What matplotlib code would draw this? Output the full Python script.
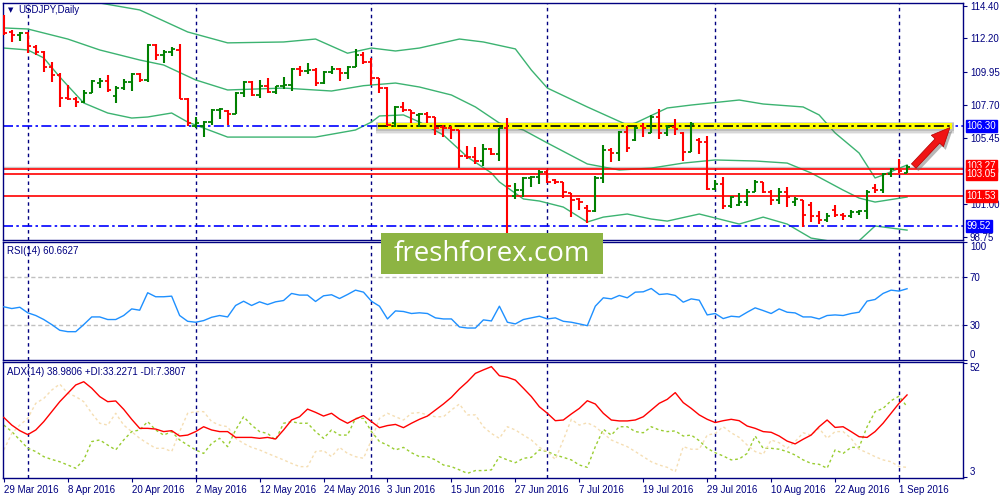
import matplotlib
matplotlib.use('Agg')
import matplotlib.pyplot as plt
import matplotlib.transforms as mtransforms
from matplotlib.patches import Rectangle
import numpy as np

plt.rcParams['font.family'] = ['Liberation Sans', 'DejaVu Sans']

# ---- data (USDJPY daily, 29 Mar 2016 .. 2 Sep 2016) ----
opens = [113.40, 112.62, 112.40, 112.57, 111.65, 111.30, 110.27, 109.75, 108.15, 108.10,
         107.90, 108.50, 109.20, 109.35, 108.30, 108.84, 109.25, 109.80, 109.40, 111.76,
         111.08, 111.28, 111.45, 108.12, 106.30, 106.30, 106.54, 107.35, 107.30, 107.08,
         108.50, 109.25, 108.35, 108.98, 108.57, 108.95, 109.05, 110.13, 110.00, 110.07,
         109.18, 109.95, 110.13, 109.86, 110.27, 111.08, 110.60, 109.52, 108.84, 106.50,
         107.56, 107.35, 107.00, 107.08, 106.88, 106.20, 106.13, 106.00, 104.24, 104.20,
         103.90, 104.71, 104.37, 106.13, 101.50, 101.93, 102.74, 102.81, 103.15, 102.60,
         102.48, 101.73, 101.30, 100.75, 100.51, 102.74, 104.64, 104.44, 105.86, 105.30,
         106.30, 105.80, 106.88, 105.80, 106.20, 105.80, 104.51, 105.30, 105.19, 102.00,
         102.34, 100.85, 100.95, 101.12, 101.80, 102.48, 101.80, 101.26, 101.80, 101.10,
         101.26, 100.90, 100.17, 99.90, 100.60, 100.24, 100.17, 100.44, 100.50, 102.10,
         101.93, 103.02, 103.36, 103.08]
highs = [113.79, 112.80, 112.64, 112.64, 111.75, 111.35, 110.60, 109.86, 109.05, 108.23,
         108.70, 109.39, 109.52, 109.73, 108.98, 109.45, 109.86, 109.86, 111.83, 111.83,
         111.42, 111.62, 111.83, 108.17, 106.88, 106.60, 107.42, 107.49, 107.35, 108.57,
         109.32, 109.32, 109.39, 109.52, 108.98, 109.59, 110.20, 110.34, 110.54, 110.20,
         110.00, 110.34, 110.20, 110.34, 111.49, 111.28, 110.88, 109.52, 108.91, 107.63,
         107.90, 107.35, 107.15, 107.22, 106.88, 106.34, 106.27, 106.00, 104.91, 104.84,
         105.05, 104.78, 106.13, 106.81, 102.41, 102.81, 102.88, 103.29, 103.29, 102.68,
         102.48, 101.73, 101.39, 100.90, 102.88, 104.98, 104.78, 105.93, 106.27, 106.20,
         106.47, 107.02, 107.42, 106.34, 106.74, 105.86, 106.54, 105.46, 105.59, 102.61,
         102.81, 101.53, 101.73, 102.00, 102.61, 102.48, 101.93, 102.07, 102.14, 101.46,
         101.26, 101.12, 100.51, 100.38, 100.92, 100.38, 100.58, 100.58, 101.93, 102.34,
         103.08, 103.43, 104.03, 103.63]
lows = [112.40, 111.95, 112.03, 111.20, 111.05, 109.93, 109.25, 107.56, 108.03, 107.56,
        107.80, 108.50, 108.84, 108.57, 107.83, 108.70, 108.64, 109.25, 109.25, 110.74,
        110.54, 111.00, 108.10, 106.27, 106.13, 105.50, 106.34, 106.74, 106.34, 107.08,
        108.23, 108.30, 108.17, 108.50, 108.44, 108.77, 108.64, 109.66, 109.79, 108.98,
        109.11, 109.79, 109.32, 109.45, 110.27, 110.47, 109.05, 108.50, 106.27, 106.20,
        107.22, 106.47, 106.20, 106.47, 105.66, 105.52, 105.39, 103.43, 104.03, 103.70,
        103.56, 104.31, 103.90, 99.00, 101.33, 101.46, 102.14, 102.34, 102.41, 102.34,
        101.39, 100.10, 100.58, 99.70, 100.44, 102.41, 103.83, 103.90, 104.51, 105.25,
        105.52, 105.80, 105.39, 105.59, 105.66, 103.90, 104.51, 104.37, 101.93, 101.93,
        100.65, 100.71, 100.85, 100.85, 101.80, 101.73, 100.92, 100.99, 100.78, 100.85,
        99.43, 99.77, 99.63, 99.77, 100.10, 99.90, 100.03, 100.24, 99.97, 101.73,
        101.73, 102.81, 103.08, 103.08]
closes = [112.60, 112.44, 112.57, 111.70, 111.30, 110.27, 109.70, 108.15, 108.10, 107.90,
          108.50, 109.30, 109.35, 108.70, 108.84, 109.25, 109.80, 109.40, 111.76, 111.08,
          111.28, 111.49, 108.12, 106.47, 106.45, 106.54, 107.35, 107.42, 107.08, 108.50,
          109.25, 108.35, 108.98, 108.57, 108.95, 109.05, 110.13, 110.00, 110.07, 109.18,
          109.95, 110.13, 109.86, 110.27, 111.08, 110.60, 109.52, 108.84, 106.35, 107.56,
          107.35, 107.15, 107.08, 106.88, 106.13, 106.13, 106.00, 104.24, 104.17, 103.90,
          104.71, 104.37, 106.13, 102.20, 101.93, 102.74, 102.81, 103.15, 102.48, 102.48,
          101.80, 101.26, 101.12, 100.51, 102.74, 104.64, 104.44, 105.86, 104.78, 106.13,
          106.13, 106.88, 105.80, 106.20, 106.06, 104.51, 106.40, 105.19, 102.00, 102.34,
          100.85, 101.46, 101.12, 101.80, 102.48, 101.80, 101.26, 101.80, 101.46, 101.33,
          100.24, 100.17, 99.90, 100.17, 100.24, 100.17, 100.44, 100.50, 101.80, 101.93,
          103.02, 103.36, 103.22, 103.52]

# Bollinger bands, read at sample bars
bb_up_idx = [0, 6, 12, 17, 23, 28, 35, 39, 43, 46, 49, 52, 57, 60, 64, 66, 68, 73, 78, 79,
             83, 86, 92, 95, 100, 102, 104, 107, 109, 110, 113]
bb_up = [116.0, 115.2, 114.6, 114.13, 112.64, 111.9, 111.96, 112.16, 111.2, 111.55, 111.35,
         111.55, 112.16, 111.96, 111.49, 110.06, 108.84, 107.56, 106.34, 106.47, 107.49,
         107.69, 108.03, 107.76, 107.56, 107.02, 105.8, 104.44, 102.75, 102.95, 103.63]
bb_mid_idx = [0, 3, 8, 12, 17, 20, 24, 28, 35, 41, 45, 49, 52, 56, 59, 62, 65, 68, 73, 77,
              81, 85, 89, 94, 98, 101, 105, 107, 109, 113]
bb_mid = [112.91, 112.84, 112.16, 111.42, 110.74, 110.40, 109.39, 108.71, 108.84, 108.64,
          109.0, 109.18, 108.91, 108.37, 107.56, 106.47, 106.0, 105.12, 103.70, 103.29,
          103.42, 103.76, 103.97, 103.90, 103.76, 103.09, 101.93, 101.39, 101.12, 101.46]
bb_low_idx = [0, 3, 5, 7, 10, 13, 16, 18, 21, 23, 28, 39, 44, 46, 47, 50, 52, 55, 58, 61,
              62, 65, 67, 70, 73, 75, 78, 81, 83, 87, 89, 92, 95, 98, 101, 104, 107, 109, 113]
bb_low = [111.55, 111.42, 110.88, 109.59, 107.83, 107.15, 106.81, 106.88, 107.15, 106.54,
          105.52, 105.52, 106.0, 106.54, 106.95, 107.02, 106.54, 105.66, 104.17, 103.09,
          102.48, 101.33, 101.19, 100.78, 99.77, 100.10, 100.31, 99.97, 99.83, 100.31,
          100.04, 99.63, 100.10, 99.63, 98.68, 98.42, 98.50, 99.50, 99.22]

rsi = [45.1, 43.6, 44.7, 40.0, 37.7, 34.3, 30.0, 25.2, 24.0, 24.0,
       30.0, 36.5, 36.5, 34.3, 34.3, 37.7, 43.3, 42.2, 57.0, 53.6,
       53.6, 54.1, 37.7, 32.8, 32.0, 33.4, 36.2, 37.7, 36.5, 46.2,
       49.8, 46.2, 49.3, 47.0, 49.3, 50.4, 56.4, 55.0, 55.0, 49.6,
       54.4, 55.3, 52.1, 55.5, 59.2, 57.5, 49.8, 45.6, 34.8, 41.6,
       41.1, 39.4, 40.0, 39.4, 35.7, 34.8, 34.8, 28.0, 27.1, 27.1,
       34.0, 33.1, 45.6, 32.0, 30.6, 34.3, 35.7, 37.1, 34.8, 35.7,
       32.8, 32.0, 30.6, 29.1, 45.6, 52.7, 51.8, 54.7, 52.7, 57.5,
       57.8, 60.6, 55.5, 56.1, 54.7, 49.0, 51.8, 50.7, 38.2, 39.4,
       35.1, 37.1, 36.5, 40.5, 44.2, 41.9, 39.4, 43.3, 40.5, 39.9,
       36.5, 36.5, 34.8, 37.7, 38.2, 37.7, 39.4, 40.5, 49.9, 51.3,
       56.4, 59.2, 58.4, 60.4]

adx = [28.6, 25.3, 22.9, 21.2, 23.2, 26.8, 31.1, 35.4, 39.0, 42.6,
       44.0, 41.2, 37.6, 35.4, 35.7, 32.1, 27.8, 23.9, 23.9, 23.6,
       22.5, 22.9, 20.6, 21.0, 22.5, 24.6, 23.2, 22.5, 22.5, 20.0,
       20.0, 20.0, 19.6, 20.0, 19.3, 23.2, 27.5, 28.9, 32.2, 30.8,
       29.2, 30.4, 27.9, 26.1, 27.9, 29.4, 26.8, 24.2, 25.1, 25.6,
       24.2, 26.1, 27.8, 29.2, 31.8, 34.4, 37.3, 40.9, 44.0, 47.6,
       49.1, 50.5, 46.6, 45.9, 44.7, 41.2, 37.6, 33.2, 30.4, 27.2,
       27.5, 30.1, 32.5, 35.8, 34.4, 30.4, 27.5, 27.1, 27.1, 27.5,
       28.9, 31.8, 34.7, 36.4, 39.3, 35.0, 32.5, 29.7, 27.8, 26.4,
       27.2, 27.8, 27.2, 24.9, 23.9, 22.5, 22.2, 20.6, 18.4, 17.2,
       19.2, 21.0, 24.6, 27.5, 24.3, 24.6, 22.5, 20.3, 20.0, 22.5,
       26.1, 30.4, 34.7, 38.3]
plus_di = [25.3, 22.5, 18.9, 15.3, 13.9, 11.7, 10.5, 9.5, 8.1, 6.7,
           10.3, 18.2, 18.9, 16.7, 14.6, 18.9, 22.5, 23.2, 26.8, 23.2,
           21.0, 22.5, 18.9, 16.7, 14.6, 13.1, 17.4, 19.6, 16.0, 23.2,
           28.9, 25.3, 22.5, 21.7, 18.9, 26.1, 26.8, 26.1, 26.1, 22.5,
           19.6, 23.2, 21.0, 21.0, 28.2, 28.2, 22.5, 18.2, 16.7, 14.6,
           15.7, 13.4, 11.7, 11.7, 10.3, 8.1, 7.4, 6.0, 4.5, 5.7,
           5.7, 6.0, 11.7, 10.3, 9.1, 11.0, 11.4, 14.6, 13.9, 12.4,
           11.4, 10.3, 8.1, 7.1, 16.0, 23.5, 21.0, 24.6, 24.6, 22.5,
           22.0, 24.6, 23.2, 22.5, 22.8, 20.6, 21.0, 18.6, 15.3, 13.4,
           12.0, 10.3, 10.7, 13.1, 20.6, 15.3, 15.3, 14.9, 13.9, 12.4,
           10.3, 8.8, 8.4, 6.7, 14.6, 13.1, 15.7, 15.7, 24.6, 31.1,
           32.5, 35.8, 37.8, 33.2]
minus_di = [14.6, 21.7, 25.3, 28.2, 34.7, 36.8, 40.4, 43.0, 39.0, 37.6,
            35.4, 30.4, 26.1, 25.3, 30.4, 25.3, 22.5, 19.6, 17.4, 15.3,
            15.3, 13.9, 22.5, 30.4, 31.1, 31.1, 26.8, 25.3, 24.6, 19.6,
            17.4, 15.7, 14.6, 13.1, 11.7, 10.3, 8.8, 7.4, 7.4, 13.9,
            14.3, 11.7, 15.7, 13.1, 11.7, 11.0, 18.9, 28.2, 30.4, 28.9,
            27.5, 30.4, 30.7, 29.7, 28.9, 28.9, 31.8, 34.4, 29.7, 29.7,
            24.6, 21.7, 19.6, 24.6, 23.2, 21.0, 18.9, 15.7, 13.9, 10.5,
            18.9, 27.8, 25.3, 26.3, 24.6, 21.7, 18.9, 17.4, 16.0, 13.9,
            11.7, 9.5, 8.1, 7.1, 5.2, 16.0, 14.9, 14.9, 21.0, 21.7,
            24.6, 22.0, 20.0, 16.7, 13.9, 12.7, 18.9, 17.7, 15.3, 18.2,
            22.0, 21.0, 23.9, 19.6, 22.5, 22.5, 19.6, 14.9, 13.4, 11.7,
            10.3, 9.5, 7.4, 7.1]

date_labels = ['29 Mar 2016', '8 Apr 2016', '20 Apr 2016', '2 May 2016', '12 May 2016',
               '24 May 2016', '3 Jun 2016', '15 Jun 2016', '27 Jun 2016', '7 Jul 2016',
               '19 Jul 2016', '29 Jul 2016', '10 Aug 2016', '22 Aug 2016', '1 Sep 2016']
month_starts = [3, 24, 46, 68, 89, 112]
price_ticks = [114.40, 112.20, 109.95, 107.70, 105.45, 101.00, 98.75]
red_levels = [103.33, 103.05, 101.53]
blue_levels = [106.30, 99.52]
target = 106.30

# ---- styling ----
W, H = 1000, 500
NAVY = '#000080'
UP, DOWN = '#008000', '#ff0000'
BB = '#3cb371'
DASHDOT = (0, (6, 2, 1.5, 2))
SEP = (0, (2.5, 2.5))

fig = plt.figure(figsize=(W / 100, H / 100), dpi=100)
fig.patch.set_facecolor('white')


def box(x0, y0, x1, y1):
    return [x0 / W, 1 - y1 / H, (x1 - x0) / W, (y1 - y0) / H]


ax = fig.add_axes(box(3, 3, 963, 240))
ax_rsi = fig.add_axes(box(3, 242, 963, 360), sharex=ax)
ax_adx = fig.add_axes(box(3, 362, 963, 478), sharex=ax)

n = len(closes)
x = np.arange(n)
o, h, l, c = map(np.array, (opens, highs, lows, closes))
cols = np.where(c >= o, UP, DOWN)

for a in (ax, ax_rsi, ax_adx):
    for s in a.spines.values():
        s.set_color(NAVY)
        s.set_linewidth(1.0)
    a.yaxis.tick_right()
    a.tick_params(axis='y', colors=NAVY, labelsize=7, length=3, pad=2)
    a.tick_params(axis='x', bottom=False, labelbottom=False)
    for m in month_starts:
        a.axvline(m, color=NAVY, lw=1, ls=SEP, zorder=1)

ax.set_xlim(-0.1, 120)

# ---- main price panel ----
ax.set_ylim(98.55, 114.60)
ax.set_yticks(price_ticks)
ax.set_yticklabels([f'{v:.2f}' for v in price_ticks])

ax.plot(bb_up_idx, bb_up, color=BB, lw=1, zorder=2)
ax.plot(bb_mid_idx, bb_mid, color=BB, lw=1, zorder=2)
ax.plot(bb_low_idx, bb_low, color=BB, lw=1, zorder=2)

for lv in red_levels:
    ax.axhline(lv, color='#ff0000', lw=1.2, zorder=2)
for lv in blue_levels:
    ax.axhline(lv, color='#0000ff', lw=1.2, ls=DASHDOT, zorder=2)
ax.axhline(closes[-1], color='#c8c8c8', lw=1, zorder=1.5)

# highlighted target band with soft shadow
for lo, hi, al in [(105.70, 106.56, 0.10), (105.80, 106.52, 0.15), (105.90, 106.49, 0.22)]:
    ax.add_patch(Rectangle((46.6, lo), 72.3, hi - lo, fc='#606060', ec='none',
                           alpha=al, zorder=3))
ax.add_patch(Rectangle((46.8, target - 0.24), 71.8, 0.44, fc='#ffff00', ec='none', zorder=3.5))
ax.hlines(target, 46.8, 118.6, color='black', lw=1.2, ls=DASHDOT, zorder=4)

ax.vlines(x, l, h, colors=cols, lw=1.5, zorder=5)
ax.hlines(o, x - 0.4, x, colors=cols, lw=1.3, zorder=5)
ax.hlines(c, x, x + 0.4, colors=cols, lw=1.3, zorder=5)

# arrow towards the target (with shadow)
ax.annotate('', xy=(118.9, target - 0.22), xytext=(113.9, closes[-1] - 0.3),
            arrowprops=dict(arrowstyle='simple,head_length=1.1,head_width=1.0,tail_width=0.38',
                            fc='#707070', ec='none', alpha=0.5, mutation_scale=12),
            zorder=6, annotation_clip=False)
ax.annotate('', xy=(118.6, target), xytext=(113.6, closes[-1] - 0.1),
            arrowprops=dict(arrowstyle='simple,head_length=1.1,head_width=1.0,tail_width=0.38',
                            fc='#f01515', ec='#b00000', lw=0.5, mutation_scale=12),
            zorder=7, annotation_clip=False)

# price tags on the right scale
tr = mtransforms.blended_transform_factory(ax.transAxes, ax.transData)
tags = [('103.27', closes[-1] + 0.02, '#ff0000', 8), ('103.05', red_levels[1], '#ff0000', 9),
        ('101.53', red_levels[2], '#ff0000', 9), ('106.30', blue_levels[0], '#0000ff', 9),
        ('99.52', blue_levels[1], '#0000ff', 9)]
for txt, yv, fc, zo in tags:
    ax.text(1 + 3.5 / 960, yv, txt, transform=tr, ha='left', va='center', fontsize=7,
            color='white', zorder=zo, clip_on=False,
            bbox=dict(boxstyle='square,pad=0.1', fc=fc, ec=fc))

fig.text(8 / W, 1 - 10 / H, '\u25bc', fontsize=5, color=NAVY, va='center',
         family='DejaVu Sans')
fig.text(18 / W, 1 - 10 / H, 'USDJPY,Daily', fontsize=7, color=NAVY, va='center')

# ---- RSI panel ----
ax_rsi.set_ylim(0, 100)
ax_rsi.plot(x, rsi, color='#1e90ff', lw=1, zorder=3)
for lv in (70, 30):
    ax_rsi.axhline(lv, color='#c0c0c0', lw=1, ls=(0, (3, 2)), zorder=1)
ax_rsi.set_yticks([100, 70, 30, 0])
ax_rsi.set_yticklabels(['100', '70', '30', '0'])
lbls = ax_rsi.get_yticklabels()
lbls[0].set_va('top')
lbls[-1].set_va('bottom')
fig.text(7 / W, 1 - 251 / H, 'RSI(14) 60.6627', fontsize=7, color=NAVY, va='center')

# ---- ADX panel ----
ax_adx.set_ylim(2.5, 52.5)
ax_adx.plot(x, plus_di, color='#9acd32', lw=1, ls=(0, (2, 2)), zorder=2)
ax_adx.plot(x, minus_di, color='#f5deb3', lw=1, ls=(0, (2, 2)), zorder=2)
ax_adx.plot(x, adx, color='#ff0000', lw=1, zorder=3)
ax_adx.set_yticks([52, 3])
ax_adx.set_yticklabels(['52', '3'])
lbls = ax_adx.get_yticklabels()
lbls[0].set_va('top')
lbls[-1].set_va('bottom')
fig.text(7 / W, 1 - 372 / H, 'ADX(14) 38.9806 +DI:33.2271 -DI:7.3807', fontsize=7,
         color=NAVY, va='center')

ax_adx.set_xticks(np.arange(0, n, 8))
ax_adx.set_xticklabels(date_labels, ha='left')
ax_adx.tick_params(axis='x', bottom=True, labelbottom=True, colors=NAVY, labelsize=7,
                   length=3, pad=2)

# ---- watermark ----
fig.add_artist(Rectangle((381 / W, 1 - 274 / H), 222 / W, 41 / H, transform=fig.transFigure,
                         fc='#8db443', ec='none', zorder=10))
fig.text(492 / W, 1 - 254 / H, 'freshforex.com', ha='center', va='center', color='white',
         fontsize=20, family='Open Sans', zorder=11)

fig.savefig('out.png', dpi=100, facecolor='white')
